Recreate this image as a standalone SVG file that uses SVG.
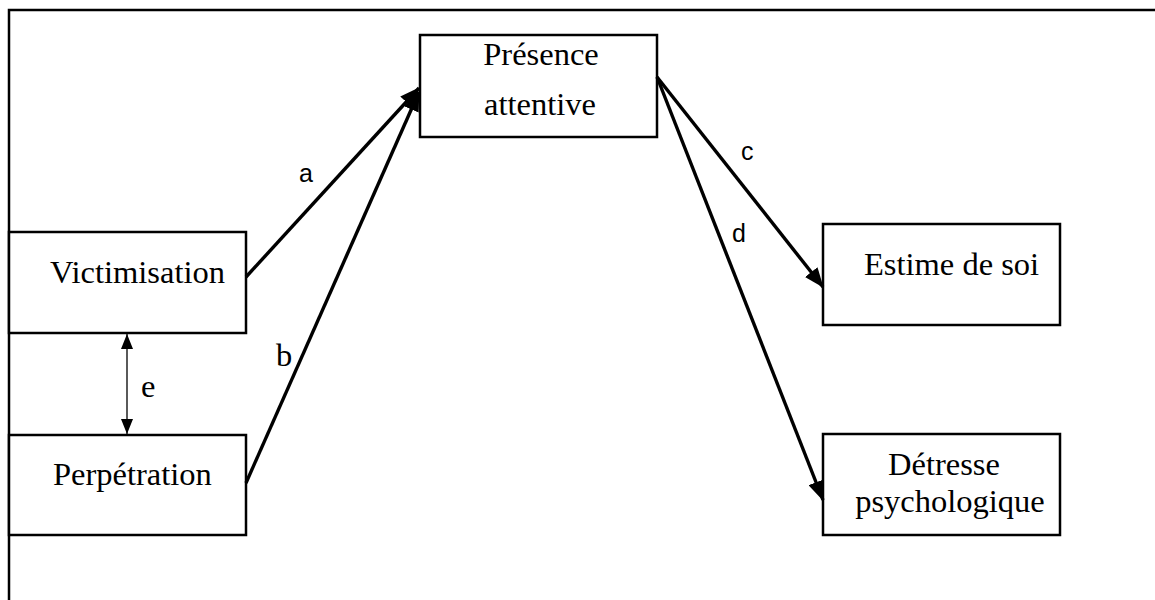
<svg xmlns="http://www.w3.org/2000/svg" width="1155" height="600" viewBox="0 0 1155 600">
<style>
.box{fill:#fff;stroke:#000;stroke-width:2.5}
.t{font-family:"Liberation Serif","Times New Roman",serif;font-size:32.5px;fill:#000}
.s{font-family:"Liberation Sans",Arial,sans-serif;font-size:25px;fill:#000}
.ln{stroke:#000;stroke-width:3.4;fill:none}
.thin{stroke:#000;stroke-width:1.3;fill:none}
</style>
<defs>
<marker id="ah" markerUnits="userSpaceOnUse" markerWidth="20" markerHeight="16" viewBox="0 0 20 16" refX="19" refY="8" orient="auto">
<path d="M0,0 L20,8 L0,16 Z" fill="#000"/>
</marker>
<marker id="sh" markerUnits="userSpaceOnUse" markerWidth="15" markerHeight="12" viewBox="0 0 15 12" refX="15" refY="6" orient="auto-start-reverse">
<path d="M0,0 L15,6 L0,12 Z" fill="#000"/>
</marker>
</defs>
<rect width="1155" height="600" fill="#fff"/>
<path d="M9,600 V10 H1155" fill="none" stroke="#000" stroke-width="2.5"/>
<g id="presence"><rect class="box" x="420" y="35" width="237" height="102"/>
<text class="t" x="541" y="65" text-anchor="middle">Présence</text>
<text class="t" x="540" y="115" text-anchor="middle">attentive</text></g>
<g id="victimisation"><rect class="box" x="9" y="232" width="237" height="101"/>
<text class="t" x="50" y="283">Victimisation</text></g>
<g id="perpetration"><rect class="box" x="9" y="435" width="237" height="100"/>
<text class="t" x="53" y="485">Perpétration</text></g>
<g id="estime"><rect class="box" x="823" y="224" width="237" height="101"/>
<text class="t" x="864" y="275">Estime de soi</text></g>
<g id="detresse"><rect class="box" x="823" y="434" width="237" height="101"/>
<text class="t" x="944" y="475" text-anchor="middle">Détresse</text>
<text class="t" x="950" y="512" text-anchor="middle">psychologique</text></g>
<g id="connectors">
<line class="ln" x1="246" y1="277" x2="419" y2="88" marker-end="url(#ah)"/>
<line class="ln" x1="246" y1="483" x2="419" y2="92" marker-end="url(#ah)"/>
<line class="ln" x1="657" y1="77" x2="823" y2="287" marker-end="url(#ah)"/>
<line class="ln" x1="657" y1="77" x2="823" y2="500" marker-end="url(#ah)"/>
<line class="thin" x1="127" y1="334" x2="127" y2="434" marker-start="url(#sh)" marker-end="url(#sh)"/>
<text class="s" x="299" y="182">a</text>
<text class="t" x="276" y="366">b</text>
<text class="s" x="741" y="160">c</text>
<text class="s" x="732" y="242">d</text>
<text class="t" x="141" y="397">e</text>
</g>
</svg>
